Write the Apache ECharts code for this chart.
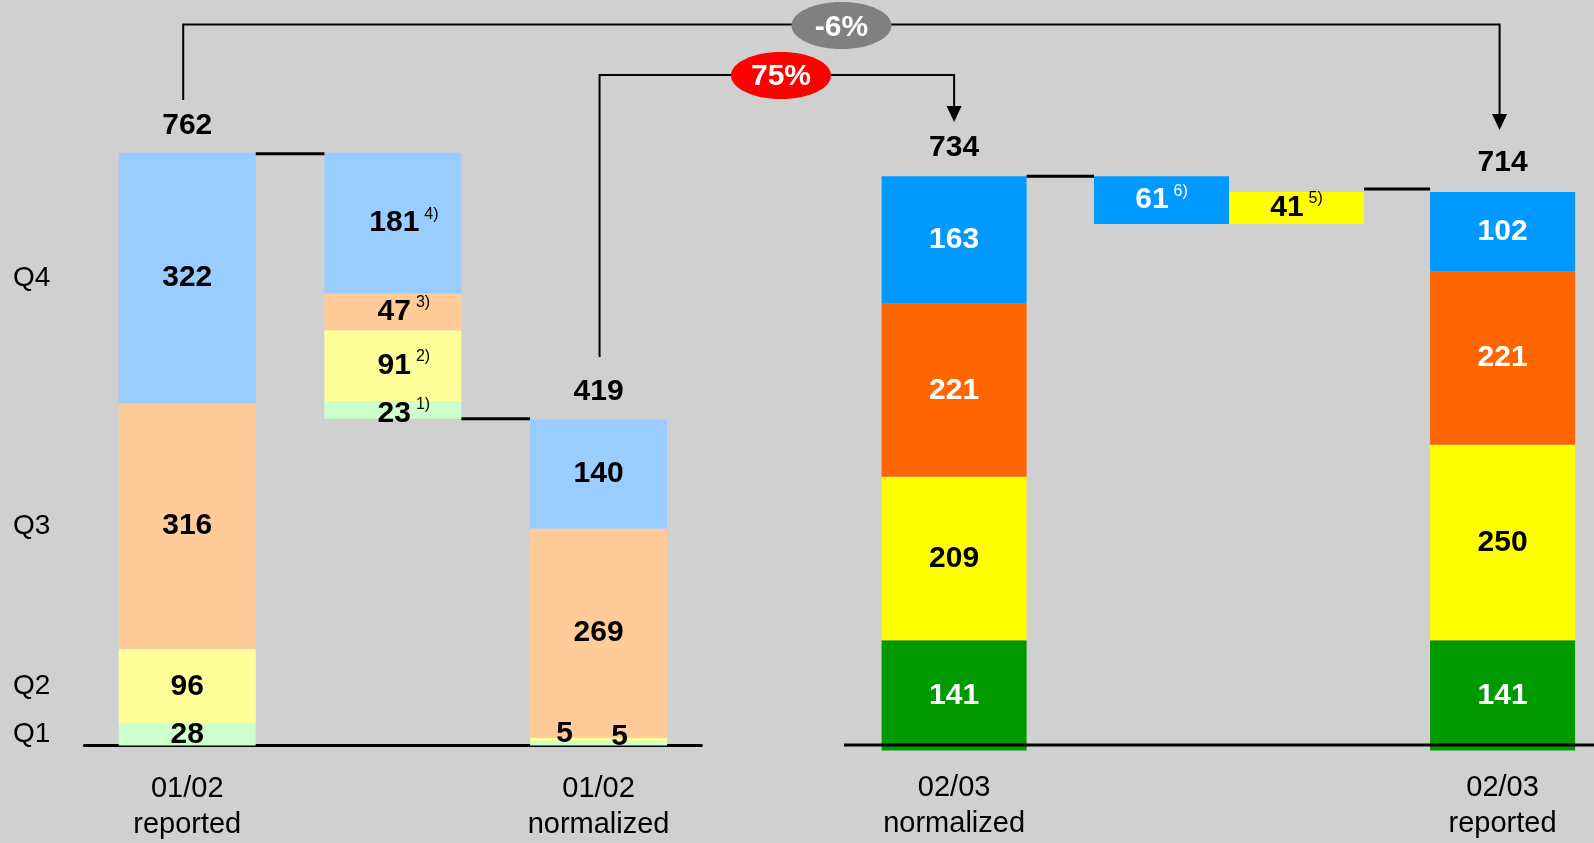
<!DOCTYPE html>
<html>
<head>
<meta charset="utf-8">
<script src="https://cdn.jsdelivr.net/npm/echarts@6/dist/echarts.min.js"></script>
<style>
html, body { margin: 0; padding: 0; background: #d0d0d0; }
#main { width: 1594px; height: 843px; }
</style>
</head>
<body>
<div id="main"></div>
<script>
var quarters = ['Q1', 'Q2', 'Q3', 'Q4'];

// 01/02 : reported, normalization items, normalized
var leftCats = ['01/02\nreported', '', '01/02\nnormalized'];
var leftQ1 = [28, 23, 5];
var leftQ2 = [96, 91, 5];
var leftQ3 = [316, 47, 269];
var leftQ4 = [322, 181, 140];
var leftTotals = [762, null, 419];
var adjNotes = ['1)', '2)', '3)', '4)'];

// 02/03 : normalized, reported
var rightCats = ['02/03\nnormalized', '02/03\nreported'];
var rightQ1 = [141, 141];
var rightQ2 = [209, 250];
var rightQ3 = [221, 221];
var rightQ4 = [163, 102];
var rightTotals = [734, 714];

// bridge normalized -> reported 02/03
var bridgeValues = [-61, 41];
var bridgeNotes = ['6)', '5)'];

var changeLabels = ['75%', '-6%'];

var FONT = '"Liberation Sans", Arial, sans-serif';
var paleColors = ['#CCFFCC', '#FFFF99', '#FFCC99', '#99CCFF'];
var strongColors = ['#009900', '#FFFF00', '#FF6600', '#0099FF'];
var strongText = ['#fff', '#000', '#fff', '#fff'];

var leftQ = [leftQ1, leftQ2, leftQ3, leftQ4];
var rightQ = [rightQ1, rightQ2, rightQ3, rightQ4];

// right panel uses 4 slots, the two stacks sit in the outer ones
var rightSlots = [0, 3];
var rightAxisData = ['', '', '', ''];
rightSlots.forEach(function (s, i) { rightAxisData[s] = rightCats[i]; });
function toSlots(arr) {
    var out = rightAxisData.map(function () { return '-'; });
    rightSlots.forEach(function (s, i) { out[s] = arr[i]; });
    return out;
}

function v(x) { return x == null ? '-' : x; }

function richFor(color) {
    return {
        v: { fontSize: 30, fontWeight: 'bold', lineHeight: 34, color: color, fontFamily: FONT },
        s: { fontSize: 16, lineHeight: 16, verticalAlign: 'top', padding: [0, 0, 0, 5], color: color, fontFamily: FONT }
    };
}

var adjSum = leftQ1[1] + leftQ2[1] + leftQ3[1] + leftQ4[1];
var adjBase = leftTotals[0] - adjSum;

var series = [];

// left panel: invisible base for the floating adjustment bar
series.push({
    type: 'bar', xAxisIndex: 0, yAxisIndex: 0, stack: 'L', barWidth: 137,
    itemStyle: { color: 'transparent' }, silent: true,
    data: ['-', adjBase, '-']
});
quarters.forEach(function (q, qi) {
    series.push({
        name: q, type: 'bar', xAxisIndex: 0, yAxisIndex: 0, stack: 'L', barWidth: 137,
        itemStyle: { color: paleColors[qi] },
        label: {
            show: true, position: 'inside',
            formatter: function (p) {
                if (p.dataIndex === 1) return '{v|' + p.value + '}{s|' + adjNotes[qi] + '}';
                return '{v|' + p.value + '}';
            },
            rich: richFor('#000')
        },
        data: leftQ[qi].map(function (val, i) {
            var item = { value: v(val) };
            if (i === 1) item.label = { offset: [11, qi === 0 ? 4 : 0] };
            if (i === 2 && qi === 0) item.label = { offset: [21, -7] };
            if (i === 2 && qi === 1) item.label = { offset: [-34, -6] };
            return item;
        })
    });
});

// right panel stacks
quarters.forEach(function (q, qi) {
    series.push({
        name: q + ' 02/03', type: 'bar', xAxisIndex: 1, yAxisIndex: 1, stack: 'R', barWidth: 145,
        itemStyle: { color: strongColors[qi] },
        label: {
            show: true, position: 'inside',
            formatter: '{v|{c}}',
            rich: richFor(strongText[qi])
        },
        data: toSlots(rightQ[qi])
    });
});

// bridge bars (own grid, two slots)
var level = rightTotals[0];
var bridgeBase = [];
var bridgeData = [];
var bridgeColors = ['#0099FF', '#FFFF00'];
var bridgeText = ['#fff', '#000'];
bridgeValues.forEach(function (d, i) {
    bridgeBase.push(d < 0 ? level + d : level);
    bridgeData.push({
        value: Math.abs(d),
        itemStyle: { color: bridgeColors[i] },
        label: {
            formatter: '{v|' + Math.abs(d) + '}{s|' + bridgeNotes[i] + '}',
            rich: richFor(bridgeText[i])
        }
    });
    level = level + d;
});
series.push({
    type: 'bar', xAxisIndex: 2, yAxisIndex: 2, stack: 'B', barWidth: 135,
    itemStyle: { color: 'transparent' }, silent: true, data: bridgeBase
});
series.push({
    type: 'bar', xAxisIndex: 2, yAxisIndex: 2, stack: 'B', barWidth: 135,
    label: { show: true, position: 'inside' },
    data: bridgeData
});

// text drawn at a data point (custom series)
function textSeries(xi, yi, pts, dx, dy, font) {
    return {
        type: 'custom', xAxisIndex: xi, yAxisIndex: yi, silent: true, z: 5,
        renderItem: function (params, api) {
            var p = api.coord([api.value(0), api.value(1)]);
            return {
                type: 'text', x: p[0] + dx, y: p[1] + dy,
                style: {
                    text: pts[params.dataIndex][2], fill: '#000', font: font,
                    align: 'center', verticalAlign: 'middle'
                }
            };
        },
        data: pts.map(function (d) { return [d[0], d[1]]; })
    };
}

var leftTotalPts = [];
leftTotals.forEach(function (t, i) { if (t != null) leftTotalPts.push([i, t, String(t)]); });
var rightTotalPts = rightTotals.map(function (t, i) { return [rightSlots[i], t, String(t)]; });
series.push(textSeries(0, 0, leftTotalPts, 0, -27.5, 'bold 30px ' + FONT));
series.push(textSeries(1, 1, rightTotalPts, 0, -29, 'bold 30px ' + FONT));

// quarter names beside the first bar
var cum = 0;
var qNamePts = leftQ.map(function (arr, qi) {
    var mid = cum + arr[0] / 2;
    cum += arr[0];
    return [0, mid, quarters[qi]];
});
series.push(textSeries(0, 0, qNamePts, -155.5, 0, '28px ' + FONT));

var catLabel = {
    color: '#000', fontSize: 29, lineHeight: 36, fontFamily: FONT, interval: 0
};

var option = {
    backgroundColor: '#d0d0d0',
    animation: false,
    grid: [
        { left: 84.4, width: 617, top: 45.5, height: 700 },
        { left: 862.7, width: 731.3, top: 46.5, height: 704 },
        { left: 1094, width: 270, top: 46.5, height: 704 }
    ],
    xAxis: [
        {
            gridIndex: 0, type: 'category', data: leftCats,
            axisLine: { lineStyle: { color: '#000', width: 3 } },
            axisTick: { show: false },
            axisLabel: Object.assign({ margin: 25 }, catLabel)
        },
        {
            gridIndex: 1, type: 'category', data: rightAxisData,
            axisLine: { show: false }, axisTick: { show: false },
            axisLabel: Object.assign({ margin: 19 }, catLabel)
        },
        {
            gridIndex: 2, type: 'category', data: ['', ''], show: false
        }
    ],
    yAxis: [
        { gridIndex: 0, type: 'value', min: 0, max: 900, show: false },
        { gridIndex: 1, type: 'value', min: 0, max: 900, show: false },
        { gridIndex: 2, type: 'value', min: 0, max: 900, show: false }
    ],
    series: series
};

var chart = echarts.init(document.getElementById('main'));
chart.setOption(option);

function px(xi, yi, pt) {
    return chart.convertToPixel({ xAxisIndex: xi, yAxisIndex: yi }, pt);
}

var b1 = px(0, 0, [0, leftTotals[0]]);
var b2lo = px(0, 0, [1, adjBase]);
var b2 = px(0, 0, [1, leftTotals[0]]);
var b3 = px(0, 0, [2, leftTotals[2]]);
var b4 = px(1, 1, [rightSlots[0], rightTotals[0]]);
var b7 = px(1, 1, [rightSlots[1], rightTotals[1]]);
var s2 = px(2, 2, [0, rightTotals[0]]);
var s3 = px(2, 2, [1, rightTotals[1]]);

function seg(x1, y1, x2, y2, w) {
    return { type: 'line', z: 10, shape: { x1: x1, y1: y1, x2: x2, y2: y2 }, style: { stroke: '#000', lineWidth: w || 3 } };
}
function arrow(x, tipY) {
    return { type: 'polygon', z: 10, shape: { points: [[x - 7.5, tipY - 16], [x + 7.5, tipY - 16], [x, tipY]] }, style: { fill: '#000' } };
}
function bubble(cx, cy, fill, text, ty) {
    return [
        { type: 'ellipse', z: 20, shape: { cx: cx, cy: cy, rx: 50, ry: 23.5 }, style: { fill: fill } },
        { type: 'text', z: 21, x: cx, y: ty, style: { text: text, fill: '#fff', font: 'bold 30px ' + FONT, align: 'center', verticalAlign: 'middle' } }
    ];
}

var gray = { x1: b1[0] - 4, x2: b7[0] - 3 };
var red = { x1: b3[0] + 1, x2: b4[0] };

var g = [
    seg(b1[0] + 68.5, b1[1] + 1, b2[0] - 68.5, b1[1] + 1),
    seg(b2[0] + 68.5, b2lo[1], b3[0] - 68.5, b2lo[1]),
    seg(b4[0] + 72.5, b4[1], s2[0] - 67.5, b4[1]),
    seg(s3[0] + 67.5, s3[1] - 3, b7[0] - 72.5, s3[1] - 3),
    seg(844, 745, 1594, 745, 3),
    { type: 'polyline', z: 10, shape: { points: [[gray.x1, 100], [gray.x1, 24.5], [gray.x2, 24.5], [gray.x2, 116]] }, style: { stroke: '#000', lineWidth: 2, fill: null } },
    arrow(gray.x2, 130),
    { type: 'polyline', z: 10, shape: { points: [[red.x1, 357], [red.x1, 75], [red.x2, 75], [red.x2, 108]] }, style: { stroke: '#000', lineWidth: 2, fill: null } },
    arrow(red.x2, 122)
];
g = g.concat(bubble(781, 75.5, '#FF0000', changeLabels[0], 77));
g = g.concat(bubble(841.5, 25.5, '#808080', changeLabels[1], 28));

chart.setOption({ graphic: g });
</script>
</body>
</html>
